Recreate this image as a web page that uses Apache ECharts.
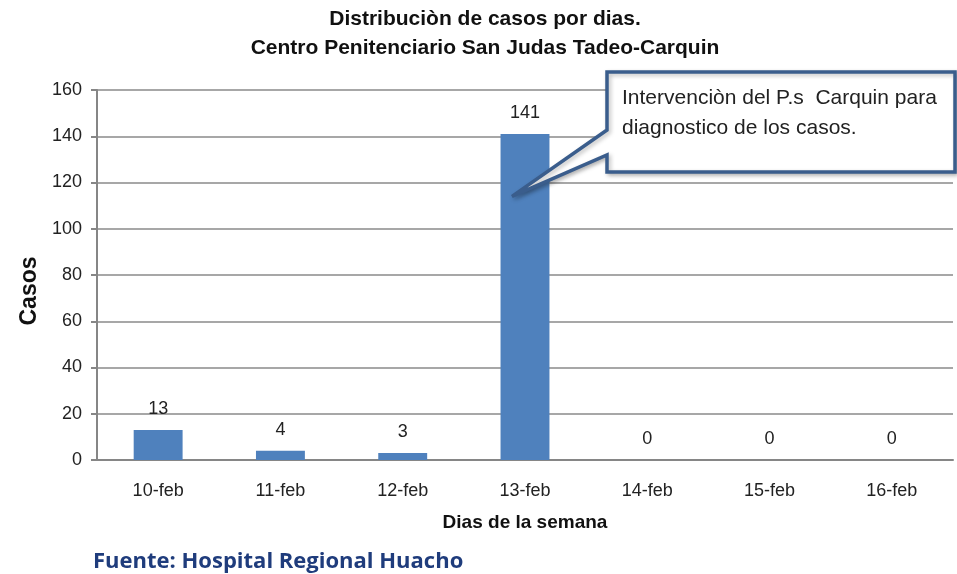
<!DOCTYPE html>
<html lang="es">
<head>
  <meta charset="UTF-8">
  <title>Distribución de casos por dias</title>
  <style>
    * { margin: 0; padding: 0; }
    body { background: #fff; }
    #main { width: 957px; height: 574px; }
  </style>
</head>
<body>
  <div id="main"></div>
  <script src="https://cdn.jsdelivr.net/npm/echarts@6/dist/echarts.min.js"></script>
  <script>
    // datos
    const dias = ['10-feb', '11-feb', '12-feb', '13-feb', '14-feb', '15-feb', '16-feb']
    const casos = [13, 4, 3, 141, 0, 0, 0]
    const yTicks = { min: 0, max: 160, interval: 20 }
    const nota = ['Intervenciòn del P.s  Carquin para', 'diagnostico de los casos.']
    const notaPunto = ['13-feb', 114] // donde apunta la flecha del globo

    const chart = echarts.init(document.getElementById('main'))
    const font = '"Liberation Sans", Arial, sans-serif'

    const option = {
      animation: false,
      title: {
        text: 'Distribuciòn de casos por dias.\nCentro Penitenciario San Judas Tadeo-Carquin',
        left: 480,
        top: 0,
        textAlign: 'center',
        textStyle: { fontFamily: font, fontSize: 21, fontWeight: 'bold', color: '#111', lineHeight: 29 }
      },
      grid: { left: 97, right: 4, top: 90, bottom: 114 },
      xAxis: {
        type: 'category',
        data: dias,
        name: 'Dias de la semana',
        nameLocation: 'middle',
        nameGap: 53,
        nameTextStyle: { fontFamily: font, fontSize: 19, fontWeight: 'bold', color: '#111' },
        axisLine: { lineStyle: { color: '#868686', width: 2 } },
        axisTick: { show: false },
        axisLabel: { fontFamily: font, fontSize: 18, color: '#222', margin: 22 }
      },
      yAxis: {
        type: 'value',
        min: yTicks.min,
        max: yTicks.max,
        interval: yTicks.interval,
        name: 'Casos',
        nameLocation: 'middle',
        nameGap: 53,
        nameTextStyle: { fontFamily: font, fontSize: 23, fontWeight: 'bold', color: '#111', padding: [0, 32, 0, 0] },
        axisLine: { show: true, lineStyle: { color: '#868686', width: 2 } },
        axisTick: { show: true, length: 6, lineStyle: { color: '#868686', width: 2 } },
        axisLabel: { fontFamily: font, fontSize: 18, color: '#222', margin: 15 },
        splitLine: { lineStyle: { color: '#8a8a8a', width: 1.5 } }
      },
      series: [{
        type: 'bar',
        data: casos,
        barWidth: '40%',
        itemStyle: { color: '#4F81BD' },
        label: {
          show: true,
          position: 'top',
          distance: 12,
          fontFamily: font,
          fontSize: 18,
          color: '#222'
        }
      }]
    }
    chart.setOption(option)

    // globo de texto con flecha hacia la barra de 13-feb
    const tip = chart.convertToPixel({ seriesIndex: 0 }, notaPunto)
    const bx = 607, by = 72, bw = 348, bh = 100
    chart.setOption({
      graphic: [
        {
          type: 'polygon',
          z: 100,
          shape: {
            points: [
              [bx, by], [bx + bw, by], [bx + bw, by + bh], [bx, by + bh],
              [bx, by + 83], [tip[0] - 13, tip[1]], [bx, by + 58]
            ]
          },
          style: { fill: '#fff', stroke: '#3a5d8c', lineWidth: 3.5, shadowColor: 'rgba(0,0,0,0.25)', shadowBlur: 4, shadowOffsetX: 2, shadowOffsetY: 2 }
        },
        {
          type: 'text',
          z: 101,
          left: bx + 15,
          top: by + 11,
          style: {
            text: nota.join('\n'),
            fontFamily: font,
            fontSize: 21,
            lineHeight: 30,
            fill: '#222'
          }
        },
        {
          type: 'text',
          left: 93,
          top: 551,
          style: {
            text: 'Fuente: Hospital Regional Huacho',
            fontFamily: '"Open Sans", sans-serif',
            fontSize: 22,
            fontWeight: 'bold',
            fill: '#1f3c7c'
          }
        }
      ]
    })
  </script>
</body>
</html>
